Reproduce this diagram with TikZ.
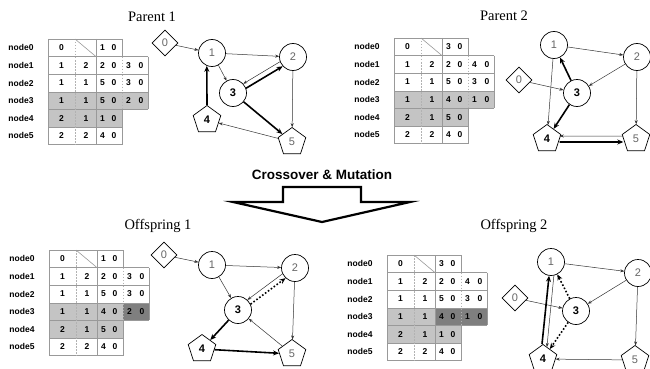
\documentclass[tikz,border=0pt]{standalone}
\usepackage{fontspec}
\setmainfont{Liberation Serif}
\setsansfont{Liberation Sans}
\usepackage{tikz}
\usetikzlibrary{arrows.meta, shapes.geometric}

\definecolor{lightcell}{HTML}{C4C4C4}
\definecolor{darkcell}{HTML}{7F7F7F}

\tikzset{
	gridline/.style = {draw = black!40, line width = 0.6pt},
	griddash/.style = {draw = black!30, line width = 0.5pt, dash pattern = on 1.5pt off 1.5pt},
	rowlabel/.style = {inner sep = 0pt, font = \sffamily\bfseries\fontsize{8.5}{10}\selectfont},
	cell/.style = {inner sep = 0pt, font = \sffamily\bfseries\fontsize{8.5}{10}\selectfont},
	title/.style = {inner sep = 0pt, font = \fontsize{14.5}{16}\selectfont},
	gnode/.style = {draw, line width = 0.7pt, inner sep = 0pt, fill = white, text = black!60,
		font = \sffamily\fontsize{11}{12}\selectfont},
	circ/.style = {gnode, circle, minimum size = 27pt},
	pent/.style = {gnode, regular polygon, regular polygon sides = 5, minimum size = 29pt},
	diam/.style = {gnode, diamond, minimum size = 26pt},
	hot/.style = {text = black, font = \sffamily\bfseries\fontsize{11}{12}\selectfont},
	thinedge/.style = {-{Stealth[length = 4pt, width = 3pt]}, line width = 0.5pt, draw = black!80},
	thickedge/.style = {-{Stealth[length = 6pt, width = 5pt]}, line width = 1.6pt},
	dotedge/.style = {thickedge, dash pattern = on 1.6pt off 2pt}
}

\newcommand{\tablegrid}[1]{%
	\draw[gridline] (0, 0) -- (74, 0);
	\draw[gridline] (0, 17.6) -- (100, 17.6);
	\draw[gridline] (0, 35.2) -- (100, 35.2);
	\draw[gridline] (0, 52.8) -- (100, 52.8);
	\draw[gridline] (0, 70.4) -- (100, 70.4);
	\draw[gridline] (0, 88) -- (74, 88);
	\draw[gridline] (0, 105.6) -- (74, 105.6);
	\draw[gridline] (0, 0) -- (0, 105.6);
	\draw[gridline] (48, 0) -- (48, 105.6);
	\draw[gridline] (74, 0) -- (74, 17.6);
	\draw[gridline] (74, 70.4) -- (74, 105.6);
	\draw[gridline] (100, 17.6) -- (100, 70.4);
	\draw[griddash] (27, 0) -- (27, 105.6);
	\draw[griddash] (74, 17.6) -- (74, 70.4);
	\draw[gridline] (27, 0) -- (48, 17.6);
	\foreach \k in {0,..., 5}
		\node[rowlabel] (#1-lbl\k) at (-27, \k * 17.6 + 8.8) {node\k};
}

\newcommand{\tablerows}[2]{%
	\foreach \r/\a/\b/\c/\d/\e/\f in {#2} {
		\node[cell] (#1-\r-a) at (13.5, \r * 17.6 + 8.8) {\a};
		\node[cell] (#1-\r-b) at (38, \r * 17.6 + 8.8) {\b};
		\node[cell] (#1-\r-c) at (54.5, \r * 17.6 + 8.8) {\c};
		\node[cell] (#1-\r-d) at (66, \r * 17.6 + 8.8) {\d};
		\node[cell] (#1-\r-e) at (80.5, \r * 17.6 + 8.8) {\e};
		\node[cell] (#1-\r-f) at (93, \r * 17.6 + 8.8) {\f};
	}%
}

\begin{document}
\begin{tikzpicture}[x = 1pt, y = -1pt]
		\useasboundingbox (0, 0) rectangle (650, 369);

		% titles
		\node[title] (t1) at (152, 17) {Parent 1};
		\node[title] (t2) at (504, 16) {Parent 2};
		\node[title] (t3) at (158, 226) {Offspring 1};
		\node[title] (t4) at (514, 226) {Offspring 2};

		% tables
		\begin{scope}[shift = {(48, 39)}]
			\fill[lightcell] (0, 52.8) rectangle (100, 70.4);
			\fill[lightcell] (0, 70.4) rectangle (74, 88);
			\tablegrid{p1}
			\tablerows{p1}{0/0/{}/1/0/{}/{}, 1/1/2/2/0/3/0, 2/1/1/5/0/3/0, 3/1/1/5/0/2/0, 4/2/1/1/0/{}/{}, 5/2/2/4/0/{}/{}}
		\end{scope}
		\begin{scope}[shift = {(394, 38)}]
			\fill[lightcell] (0, 52.8) rectangle (100, 70.4);
			\fill[lightcell] (0, 70.4) rectangle (74, 88);
			\tablegrid{p2}
			\tablerows{p2}{0/0/{}/3/0/{}/{}, 1/1/2/2/0/4/0, 2/1/1/5/0/3/0, 3/1/1/4/0/1/0, 4/2/1/5/0/{}/{}, 5/2/2/4/0/{}/{}}
		\end{scope}
		\begin{scope}[shift = {(49, 250)}]
			\fill[lightcell] (0, 52.8) rectangle (74, 70.4);
			\fill[darkcell] (74, 52.8) rectangle (100, 70.4);
			\fill[lightcell] (0, 70.4) rectangle (74, 88);
			\tablegrid{o1}
			\tablerows{o1}{0/0/{}/1/0/{}/{}, 1/1/2/2/0/3/0, 2/1/1/5/0/3/0, 3/1/1/4/0/2/0, 4/2/1/5/0/{}/{}, 5/2/2/4/0/{}/{}}
		\end{scope}
		\begin{scope}[shift = {(387, 255)}]
			\fill[lightcell] (0, 52.8) rectangle (48, 70.4);
			\fill[darkcell] (48, 52.8) rectangle (100, 70.4);
			\fill[lightcell] (0, 70.4) rectangle (74, 88);
			\tablegrid{o2}
			\tablerows{o2}{0/0/{}/3/0/{}/{}, 1/1/2/2/0/4/0, 2/1/1/5/0/3/0, 3/1/1/4/0/1/0, 4/2/1/1/0/{}/{}, 5/2/2/4/0/{}/{}}
		\end{scope}

		% crossover arrow
		\node[inner sep = 0pt, font = \sffamily\bfseries\fontsize{13.5}{15}\selectfont] (cm) at (322, 175) {Crossover \& Mutation};
		\draw[line width = 2.2pt, fill = white, line join = miter] (283, 187) -- (361, 187) -- (361, 202) -- (410, 202) -- (322, 222) -- (233, 202) -- (283, 202) -- cycle;

		% parent 1
		\node[diam] (p1n0) at (165, 43) {0};
		\node[circ] (p1n1) at (212, 53) {1};
		\node[circ] (p1n2) at (293, 57) {2};
		\node[circ, hot] (p1n3) at (233, 93) {3};
		\node[pent, hot] (p1n4) at (207, 120) {4};
		\node[pent] (p1n5) at (292, 142) {5};
		\draw[thinedge] (p1n0) -- (p1n1);
		\draw[thinedge] (p1n1) -- (p1n2);
		\draw[thinedge] (p1n1) -- (p1n3);
		\draw[thinedge] (p1n2.200) -- (p1n3.42);
		\draw[thinedge] (p1n5) -- (p1n4);
		\draw[thinedge] (p1n2) -- (p1n5);
		\draw[thickedge] (p1n3.20) -- (p1n2.222);
		\draw[thickedge] (p1n3) -- (p1n5);
		\draw[thickedge] (p1n4.north) -- (p1n1.248);

		% parent 2
		\node[diam] (p2n0) at (519, 80) {0};
		\node[circ] (p2n1) at (554, 45) {1};
		\node[circ] (p2n2) at (637, 57) {2};
		\node[circ, hot] (p2n3) at (577, 93) {3};
		\node[pent, hot] (p2n4) at (547, 139) {4};
		\node[pent] (p2n5) at (636, 139) {5};
		\draw[thinedge] (p2n1) -- (p2n2);
		\draw[thinedge] (p2n2) -- (p2n3);
		\draw[thinedge] (p2n0) -- (p2n3);
		\draw[thinedge] (p2n1) -- (p2n4);
		\draw[thinedge] (p2n2) -- (p2n5);
		\draw[thinedge] ([yshift = 3pt]p2n5.west) -- ([yshift = 3pt]p2n4.east);
		\draw[thickedge] (p2n3) -- (p2n1);
		\draw[thickedge] (p2n3) -- (p2n4);
		\draw[thickedge] ([yshift = -3pt]p2n4.east) -- ([yshift = -3pt]p2n5.west);

		% offspring 1
		\node[diam] (o1n0) at (164, 255) {0};
		\node[circ] (o1n1) at (212, 265) {1};
		\node[circ] (o1n2) at (295, 268) {2};
		\node[circ, hot] (o1n3) at (238, 310) {3};
		\node[pent, hot] (o1n4) at (202, 349) {4};
		\node[pent] (o1n5) at (292, 354) {5};
		\draw[thinedge] (o1n0) -- (o1n1);
		\draw[thinedge] (o1n1) -- (o1n2);
		\draw[thinedge] (o1n1) -- (o1n3);
		\draw[thinedge] (o1n2.205) -- (o1n3.47);
		\draw[thinedge] (o1n5) -- (o1n3);
		\draw[thinedge] (o1n2) -- (o1n5);
		\draw[dotedge] (o1n3.25) -- (o1n2.227);
		\draw[thickedge] (o1n3) -- (o1n4);
		\draw[thickedge] (o1n4) -- (o1n5);

		% offspring 2
		\node[diam] (o2n0) at (515, 298) {0};
		\node[circ] (o2n1) at (551, 262) {1};
		\node[circ] (o2n2) at (638, 273) {2};
		\node[circ, hot] (o2n3) at (576, 311) {3};
		\node[pent, hot] (o2n4) at (543, 359) {4};
		\node[pent] (o2n5) at (635, 360) {5};
		\draw[thinedge] (o2n1) -- (o2n2);
		\draw[thinedge] (o2n2) -- (o2n3);
		\draw[thinedge] (o2n0) -- (o2n3);
		\draw[thinedge] (o2n1.282) -- (o2n4.72);
		\draw[thinedge] (o2n5) -- (o2n4);
		\draw[thinedge] (o2n2) -- (o2n5);
		\draw[dotedge] (o2n3) -- (o2n1);
		\draw[dotedge] (o2n3) -- (o2n4);
		\draw[thickedge] ([xshift = -1pt]o2n4.north) -- (o2n1.262);
		\end{tikzpicture}
\end{document}
